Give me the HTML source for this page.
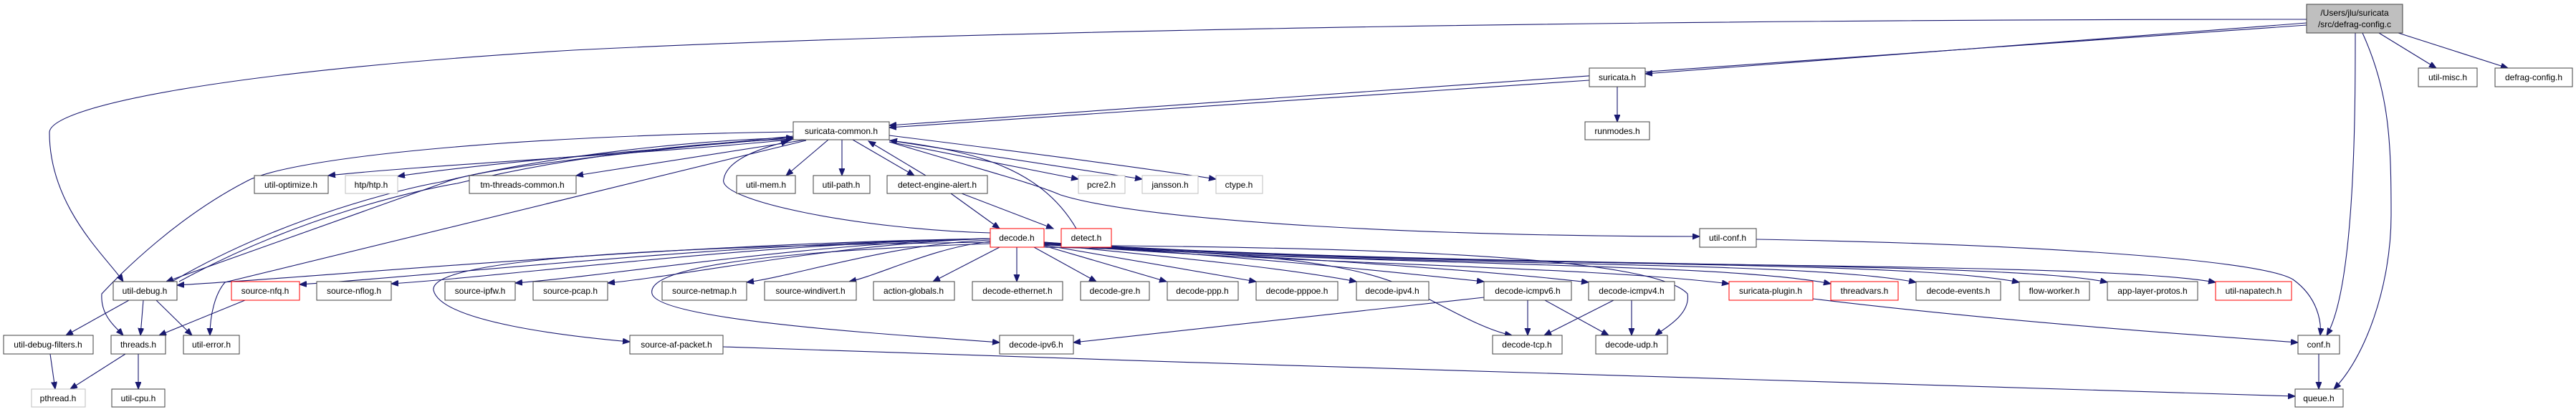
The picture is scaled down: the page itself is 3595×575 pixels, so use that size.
<!DOCTYPE html>
<html><head><meta charset="utf-8"><style>
html,body{margin:0;padding:0;background:#fff;}
svg{display:block;}
text{font-family:"Liberation Sans",Arial,sans-serif;font-size:12px;fill:#000;}
.e{fill:none;stroke:#191970;stroke-width:1.1;marker-end:url(#a);}
.n{fill:#fff;stroke:#404040;stroke-width:1;}
.r{fill:#fff;stroke:#ff0000;stroke-width:1;}
.g{fill:#fff;stroke:#bfbfbf;stroke-width:1;}
</style></head><body>
<svg width="3595" height="575" viewBox="0 0 3595 575" xmlns="http://www.w3.org/2000/svg">
<defs><marker id="a" markerUnits="userSpaceOnUse" markerWidth="12" markerHeight="10" refX="10" refY="4" orient="auto"><path d="M0,0 L10,4 L0,8 z" fill="#191970" stroke="#191970"/></marker></defs>
<g>
<path class="e" d="M3219,27 C2400,27 1400,40 800,70 C300,100 69,150 69,185 C69,290 150,360 172,393"/>
<path class="e" d="M3219,32 L2296,103"/>
<path class="e" d="M3219,35 L1241,175"/>
<path class="e" d="M3320,46 L3400,95"/>
<path class="e" d="M3347,46 L3500,95"/>
<path class="e" d="M3287,46 C3287,150 3287,400 3247,468"/>
<path class="e" d="M3297,46 C3335,130 3337,200 3337,300 C3337,400 3300,500 3257,543"/>
<path class="e" d="M2218,112 L1241,178"/>
<path class="e" d="M2257,121 L2257,170"/>
<path class="e" d="M1102,195 C900,215 600,230 458,245"/>
<path class="e" d="M1107,192 C900,210 700,225 555,246"/>
<path class="e" d="M1125,195 L804,245"/>
<path class="e" d="M1156,195 L1097,245"/>
<path class="e" d="M1175,195 L1175,245"/>
<path class="e" d="M1190,195 L1276,245"/>
<path class="e" d="M1241,198 L1505,250"/>
<path class="e" d="M1241,196 L1594,250"/>
<path class="e" d="M1241,189 C1450,215 1600,235 1697,250"/>
<path class="e" d="M1241,198 C1380,240 1440,255 1480,272 C1600,310 2000,330 2372,330"/>
<path class="e" d="M1107,184 C700,190 420,220 350,250 C250,300 170,380 142,410 C140,440 160,455 172,468"/>
<path class="e" d="M1107,190 C850,215 680,235 628,252 L232,393"/>
<path class="e" d="M240,393 C400,300 570,262 615,254 C800,210 1000,195 1107,192"/>
<path class="e" d="M250,393 C420,300 590,264 638,256 C820,212 1000,198 1107,194"/>
<path class="e" d="M1125,196 L314,394 C300,410 293,440 293,468"/>
<path class="e" d="M1382,325 C1200,320 1000,280 1010,250 C1015,220 1070,205 1100,197"/>
<path class="e" d="M1292,245 L1212,197"/>
<path class="e" d="M1327,270 L1395,319"/>
<path class="e" d="M1342,270 L1470,319"/>
<path class="e" d="M1502,319 C1450,230 1350,210 1242,196"/>
<path class="e" d="M180,419 L92,468"/>
<path class="e" d="M200,419 L196,468"/>
<path class="e" d="M218,419 L268,468"/>
<path class="e" d="M342,419 L222,468"/>
<path class="e" d="M70,494 L77,543"/>
<path class="e" d="M175,494 L98,543"/>
<path class="e" d="M193,494 L193,543"/>
<path class="e" d="M1382,333 C928,340 474,385 247,398"/>
<path class="e" d="M1382,333 C996,340 611,385 418,397"/>
<path class="e" d="M1382,333 C1048,340 713,385 546,396"/>
<path class="e" d="M1382,333 C1117,340 852,385 719,395"/>
<path class="e" d="M1382,333 C1168,340 955,385 848,395"/>
<path class="e" d="M1382,335 C1246,340 1110,385 1042,394"/>
<path class="e" d="M1382,337 C1303,345 1225,385 1185,393"/>
<path class="e" d="M1395,345 L1302,393"/>
<path class="e" d="M1419,345 L1419,393"/>
<path class="e" d="M1443,345 L1530,393"/>
<path class="e" d="M1457,343 L1628,393"/>
<path class="e" d="M1457,342 L1753,393"/>
<path class="e" d="M1457,341 C1650,360 1800,375 1893,393"/>
<path class="e" d="M1457,340 C1700,355 1900,375 2071,393"/>
<path class="e" d="M1457,340 C1800,360 2050,375 2217,394"/>
<path class="e" d="M1457,340 C1800,370 2200,370 2413,396"/>
<path class="e" d="M1457,340 C1900,372 2400,365 2555,396"/>
<path class="e" d="M1457,339 C1900,375 2500,360 2674,394"/>
<path class="e" d="M1457,339 C2000,375 2650,360 2818,394"/>
<path class="e" d="M1457,338 C2000,375 2800,362 2941,394"/>
<path class="e" d="M1457,338 C2000,380 2900,360 3092,394"/>
<path class="e" d="M1382,338 C800,345 600,370 605,405 C615,450 800,470 879,477"/>
<path class="e" d="M1382,340 C1100,350 900,370 910,410 C920,450 1300,470 1395,478"/>
<path class="e" d="M1457,345 C1700,350 1870,360 1960,400 C2020,430 2070,460 2110,468"/>
<path class="e" d="M1457,342 C1800,345 2300,350 2355,410 C2360,440 2320,460 2310,468"/>
<path class="e" d="M2071,415 L1498,478"/>
<path class="e" d="M2132,419 L2132,468"/>
<path class="e" d="M2156,419 L2245,468"/>
<path class="e" d="M2252,419 L2155,468"/>
<path class="e" d="M2277,419 L2277,468"/>
<path class="e" d="M1009,484 C1800,510 2800,545 3203,553"/>
<path class="e" d="M2530,417 C2800,450 3100,470 3207,478"/>
<path class="e" d="M2451,334 C2800,340 3150,360 3200,390 C3235,415 3240,450 3238,468"/>
<path class="e" d="M3236,494 L3236,543"/>
</g>
<g>
<rect x="3219" y="6" width="134" height="40" fill="#bfbfbf" stroke="#404040"/>
<text x="3286" y="22" text-anchor="middle">/Users/jlu/suricata</text>
<text x="3286" y="38" text-anchor="middle">/src/defrag-config.c</text>

<rect class="n" x="2218" y="95" width="78" height="26"/><text x="2257" y="112" text-anchor="middle">suricata.h</text>
<rect class="n" x="3375" y="95" width="82" height="26"/><text x="3416" y="112" text-anchor="middle">util-misc.h</text>
<rect class="n" x="3482" y="95" width="108" height="26"/><text x="3536" y="112" text-anchor="middle">defrag-config.h</text>

<rect class="n" x="1107" y="170" width="134" height="25"/><text x="1174" y="187" text-anchor="middle">suricata-common.h</text>
<rect class="n" x="2212" y="170" width="90" height="25"/><text x="2257" y="187" text-anchor="middle">runmodes.h</text>

<rect class="n" x="355" y="245" width="103" height="25"/><text x="406" y="262" text-anchor="middle">util-optimize.h</text>
<rect class="g" x="482" y="245" width="73" height="25"/><text x="518" y="262" text-anchor="middle">htp/htp.h</text>
<rect class="n" x="655" y="245" width="149" height="25"/><text x="729" y="262" text-anchor="middle">tm-threads-common.h</text>
<rect class="n" x="1028" y="245" width="82" height="25"/><text x="1069" y="262" text-anchor="middle">util-mem.h</text>
<rect class="n" x="1135" y="245" width="79" height="25"/><text x="1174" y="262" text-anchor="middle">util-path.h</text>
<rect class="n" x="1238" y="245" width="140" height="25"/><text x="1308" y="262" text-anchor="middle">detect-engine-alert.h</text>
<rect class="g" x="1505" y="245" width="65" height="25"/><text x="1537" y="262" text-anchor="middle">pcre2.h</text>
<rect class="g" x="1594" y="245" width="78" height="25"/><text x="1633" y="262" text-anchor="middle">jansson.h</text>
<rect class="g" x="1697" y="245" width="65" height="25"/><text x="1729" y="262" text-anchor="middle">ctype.h</text>

<rect class="r" x="1382" y="319" width="75" height="26"/><text x="1419" y="336" text-anchor="middle">decode.h</text>
<rect class="r" x="1481" y="319" width="70" height="26"/><text x="1516" y="336" text-anchor="middle">detect.h</text>
<rect class="n" x="2372" y="319" width="79" height="26"/><text x="2411" y="336" text-anchor="middle">util-conf.h</text>

<rect class="n" x="158" y="393" width="89" height="26"/><text x="202" y="410" text-anchor="middle">util-debug.h</text>
<rect class="r" x="323" y="393" width="95" height="26"/><text x="370" y="410" text-anchor="middle">source-nfq.h</text>
<rect class="n" x="442" y="393" width="104" height="26"/><text x="494" y="410" text-anchor="middle">source-nflog.h</text>
<rect class="n" x="621" y="393" width="98" height="26"/><text x="670" y="410" text-anchor="middle">source-ipfw.h</text>
<rect class="n" x="744" y="393" width="104" height="26"/><text x="796" y="410" text-anchor="middle">source-pcap.h</text>
<rect class="n" x="924" y="393" width="118" height="26"/><text x="983" y="410" text-anchor="middle">source-netmap.h</text>
<rect class="n" x="1067" y="393" width="128" height="26"/><text x="1131" y="410" text-anchor="middle">source-windivert.h</text>
<rect class="n" x="1219" y="393" width="113" height="26"/><text x="1275" y="410" text-anchor="middle">action-globals.h</text>
<rect class="n" x="1357" y="393" width="126" height="26"/><text x="1420" y="410" text-anchor="middle">decode-ethernet.h</text>
<rect class="n" x="1508" y="393" width="96" height="26"/><text x="1556" y="410" text-anchor="middle">decode-gre.h</text>
<rect class="n" x="1629" y="393" width="99" height="26"/><text x="1678" y="410" text-anchor="middle">decode-ppp.h</text>
<rect class="n" x="1753" y="393" width="114" height="26"/><text x="1810" y="410" text-anchor="middle">decode-pppoe.h</text>
<rect class="n" x="1893" y="393" width="101" height="26"/><text x="1943" y="410" text-anchor="middle">decode-ipv4.h</text>
<rect class="n" x="2071" y="393" width="122" height="26"/><text x="2132" y="410" text-anchor="middle">decode-icmpv6.h</text>
<rect class="n" x="2217" y="393" width="120" height="26"/><text x="2277" y="410" text-anchor="middle">decode-icmpv4.h</text>
<rect class="r" x="2413" y="393" width="117" height="26"/><text x="2471" y="410" text-anchor="middle">suricata-plugin.h</text>
<rect class="r" x="2555" y="393" width="94" height="26"/><text x="2602" y="410" text-anchor="middle">threadvars.h</text>
<rect class="n" x="2674" y="393" width="118" height="26"/><text x="2733" y="410" text-anchor="middle">decode-events.h</text>
<rect class="n" x="2818" y="393" width="98" height="26"/><text x="2867" y="410" text-anchor="middle">flow-worker.h</text>
<rect class="n" x="2941" y="393" width="126" height="26"/><text x="3004" y="410" text-anchor="middle">app-layer-protos.h</text>
<rect class="r" x="3092" y="393" width="106" height="26"/><text x="3145" y="410" text-anchor="middle">util-napatech.h</text>

<rect class="n" x="5" y="468" width="125" height="26"/><text x="67" y="485" text-anchor="middle">util-debug-filters.h</text>
<rect class="n" x="155" y="468" width="76" height="26"/><text x="193" y="485" text-anchor="middle">threads.h</text>
<rect class="n" x="256" y="468" width="78" height="26"/><text x="295" y="485" text-anchor="middle">util-error.h</text>
<rect class="n" x="879" y="468" width="130" height="26"/><text x="944" y="485" text-anchor="middle">source-af-packet.h</text>
<rect class="n" x="1395" y="468" width="103" height="26"/><text x="1446" y="485" text-anchor="middle">decode-ipv6.h</text>
<rect class="n" x="2083" y="468" width="97" height="26"/><text x="2131" y="485" text-anchor="middle">decode-tcp.h</text>
<rect class="n" x="2227" y="468" width="100" height="26"/><text x="2277" y="485" text-anchor="middle">decode-udp.h</text>
<rect class="n" x="3207" y="468" width="58" height="26"/><text x="3236" y="485" text-anchor="middle">conf.h</text>

<rect class="g" x="44" y="543" width="75" height="25"/><text x="81" y="560" text-anchor="middle">pthread.h</text>
<rect class="n" x="156" y="543" width="74" height="25"/><text x="193" y="560" text-anchor="middle">util-cpu.h</text>
<rect class="n" x="3203" y="543" width="67" height="25"/><text x="3236" y="560" text-anchor="middle">queue.h</text>
</g>
</svg>
</body></html>
